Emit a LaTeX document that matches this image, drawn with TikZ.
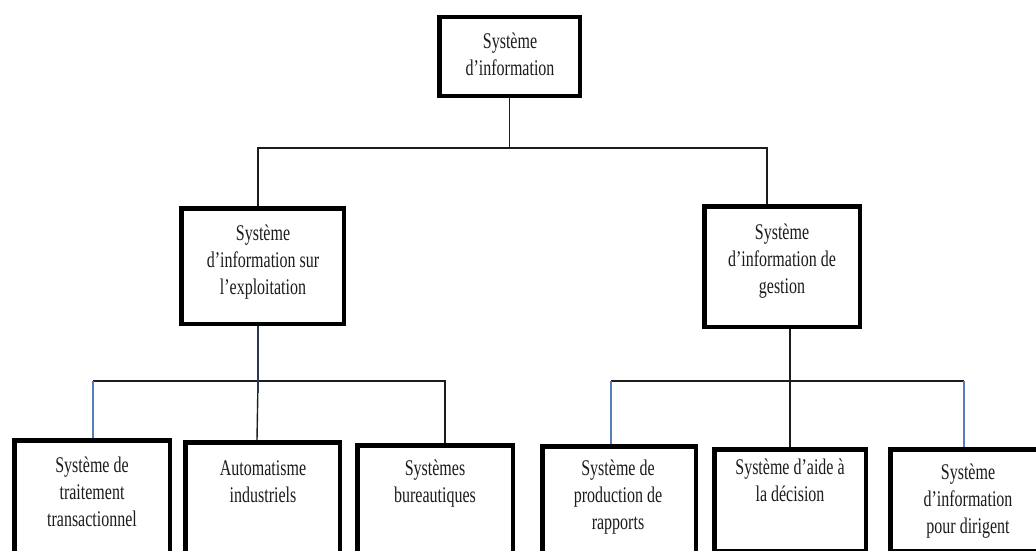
\documentclass[tikz,border=0pt]{standalone}
\usepackage{fontspec}
\setmainfont{Liberation Serif}
\definecolor{ink}{RGB}{28,28,28}
\definecolor{linkblue}{RGB}{84,128,186}
\definecolor{navyline}{RGB}{40,55,85}
% text of a box: centred lines, slightly tall letters
\newcommand\boxtext[1]{\scalebox{1}[1.4]{\begin{tabular}{@{}c@{}}#1\end{tabular}}}
\tikzset{
  frame/.style={draw=black, line width=4.5pt, inner sep=0pt, fill=white},
  boxlabel/.style={font=\fontsize{16}{19.3}\selectfont, text=ink, inner sep=0pt},
  conn/.style={draw=ink, line width=1.4pt},
  blueconn/.style={draw=linkblue, line width=1.4pt},
  navyconn/.style={draw=navyline, line width=2pt}
}
\begin{document}
\begin{tikzpicture}[x=1pt,y=1pt]
\useasboundingbox (0,0) rectangle (1036,-551);

% frames
\node[frame, minimum width=140.5pt, minimum height=78.5pt]  (top) at (509.5,-56.5) {};
\node[frame, minimum width=162.5pt, minimum height=115.5pt] (L)   at (262.5,-266) {};
\node[frame, minimum width=155.5pt, minimum height=120.5pt] (R)   at (782,-266.5) {};
\node[frame, minimum width=155.5pt, minimum height=122.5pt] (b1)  at (92,-501.5) {};
\node[frame, minimum width=154.5pt, minimum height=120.5pt] (b2)  at (262.5,-502.5) {};
\node[frame, minimum width=155.5pt, minimum height=117.5pt] (b3)  at (435,-504) {};
\node[frame, minimum width=153.5pt, minimum height=116.5pt] (b4)  at (619,-504.5) {};
\node[frame, minimum width=151.5pt, minimum height=101.5pt] (b5)  at (790,-500) {};
\node[frame, minimum width=149.5pt, minimum height=101.5pt] (b6)  at (965,-500) {};

% labels
\node[boxlabel] (t0) at (510,-56.5)  {\boxtext{Système\\d’information}};
\node[boxlabel] (tL) at (263,-262.5) {\boxtext{Système\\d’information sur\\l’exploitation}};
\node[boxlabel] (tR) at (782,-261)   {\boxtext{Système\\d’information de\\gestion}};
\node[boxlabel] (t1) at (92,-494.5)  {\boxtext{Système de\\traitement\\transactionnel}};
\node[boxlabel] (t2) at (263,-483.5) {\boxtext{Automatisme\\industriels}};
\node[boxlabel] (t3) at (435,-483.5) {\boxtext{Systèmes\\bureautiques}};
\node[boxlabel] (t4) at (618,-497)   {\boxtext{Système de\\production de\\rapports}};
\node[boxlabel] (t5) at (790,-482.5) {\boxtext{Système d’aide à\\la décision}};
\node[boxlabel] (t6) at (968,-501)   {\boxtext{Système\\d’information\\pour dirigent}};

% first level
\coordinate (j0) at (510,-148);
\draw[conn] (top.south) -- (top.south |- j0);
\draw[conn] ([xshift=-4.5pt]L.north) |- (j0);
\draw[conn] ([xshift=-15pt]R.north) |- (j0);

% left branch
\coordinate (j1) at (258,-381);
\coordinate (h1a) at ([xshift=1pt]b1.north |- j1);
\draw[conn] (h1a) -- (j1) -| ([xshift=10pt]b3.north);
\draw[blueconn] (h1a) -- ([xshift=1pt]b1.north);
\draw[conn] (j1) -- ([xshift=-5.5pt]b2.north);
\draw[navyconn] ([xshift=-4.5pt]L.south) -- ([yshift=-12pt]j1);

% right branch
\coordinate (j2) at (790,-381);
\coordinate (h2a) at ([xshift=-8pt]b4.north |- j2);
\coordinate (h2b) at ([xshift=-1pt]b6.north |- j2);
\draw[conn] ([xshift=8pt]R.south) -- (j2) -- (b5.north);
\draw[conn] (h2a) -- (h2b);
\draw[blueconn] (h2a) -- ([xshift=-8pt]b4.north);
\draw[blueconn] (h2b) -- ([xshift=-1pt]b6.north);
\end{tikzpicture}
\end{document}
